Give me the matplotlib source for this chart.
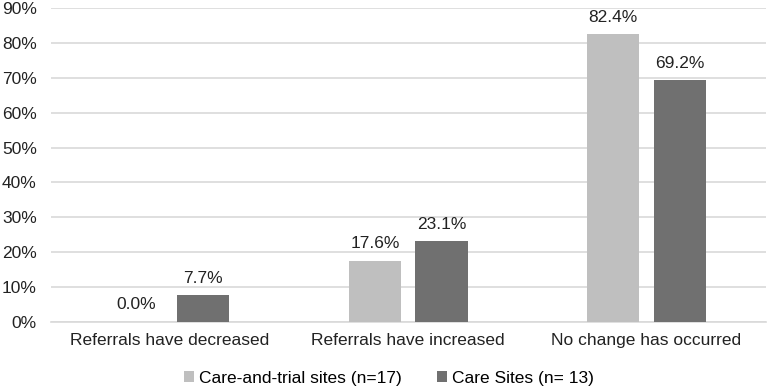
import numpy as np
import matplotlib
matplotlib.use('Agg')
import matplotlib.pyplot as plt

# Chart data
categories = ['Referrals have decreased', 'Referrals have increased', 'No change has occurred']
care_trial = [0.0, 17.6, 82.4]
care_sites = [7.7, 23.1, 69.2]
series_names = ['Care-and-trial sites (n=17)', 'Care Sites (n= 13)']

plt.rcParams['font.family'] = ['Liberation Sans', 'DejaVu Sans']
fs = 12.5

fig = plt.figure(figsize=(7.68, 3.91), dpi=100)
ax = fig.add_axes([0.066, 0.176, 0.931, 0.804])

x = np.arange(len(categories))
w = 0.22
gap = 0.06
off = (w + gap) / 2

b1 = ax.bar(x - off, care_trial, w, color='#BFBFBF', label=series_names[0], zorder=3)
b2 = ax.bar(x + off, care_sites, w, color='#707070', label=series_names[1], zorder=3)

for bars, vals in [(b1, care_trial), (b2, care_sites)]:
    for r, v in zip(bars, vals):
        ax.annotate(f'{v:.1f}%', (r.get_x() + r.get_width() / 2, v),
                    xytext=(0, 7), textcoords='offset points',
                    ha='center', va='bottom', fontsize=fs, color='#222222')

ax.set_xlim(-0.5, len(categories) - 0.5)
ax.set_ylim(0, 90)
ax.set_yticks(np.arange(0, 91, 10))
ax.set_yticklabels([f'{t}%' for t in range(0, 91, 10)])
ax.set_xticks(x)
ax.set_xticklabels(categories)
ax.tick_params(axis='both', length=0, labelsize=fs, colors='#222222')
ax.tick_params(axis='y', pad=10)
ax.tick_params(axis='x', pad=8)

ax.yaxis.grid(True, color='#D9D9D9', linewidth=1.2, zorder=0)
for s in ['top', 'right', 'left']:
    ax.spines[s].set_visible(False)
ax.spines['bottom'].set_color('#D9D9D9')
ax.spines['bottom'].set_linewidth(1.2)

fig.legend(handles=[b1, b2], loc='center', bbox_to_anchor=(389 / 768, 1 - 378 / 391),
           ncol=2, frameon=False, fontsize=fs, handlelength=0.6, handleheight=0.6,
           handletextpad=0.3, columnspacing=2.0, borderpad=0)

fig.savefig('out.png', dpi=100)
